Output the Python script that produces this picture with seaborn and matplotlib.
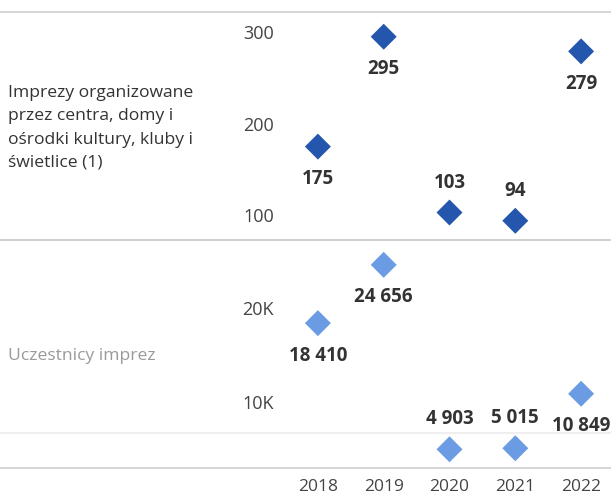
import matplotlib
matplotlib.use("Agg")
import matplotlib.pyplot as plt
import seaborn as sns
import pandas as pd
from matplotlib.lines import Line2D

years = ["2018", "2019", "2020", "2021", "2022"]
events = [175, 295, 103, 94, 279]
participants = [18410, 24656, 4903, 5015, 10849]
row_labels = ["Imprezy organizowane\nprzez centra, domy i\nośrodki kultury, kluby i\nświetlice (1)",
              "Uczestnicy imprez"]
events_ticks = [100, 200, 300]
events_ticklabels = ["100", "200", "300"]
part_ticks = [10000, 20000]
part_ticklabels = ["10K", "20K"]
label_side = ["below", "below", "above", "above", "below"]

sns.set_theme(style="white")
plt.rcParams['font.family'] = ['Open Sans', 'DejaVu Sans']

W, H = 611, 499
fig = plt.figure(figsize=(W / 100, H / 100), dpi=100)

def fy(px):
    return 1 - px / H

left = 285 / W
width = 329 / W
ax1 = fig.add_axes([left, fy(240), width, (240 - 12) / H])
ax2 = fig.add_axes([left, fy(468), width, (468 - 242) / H])

def fmt(v):
    return f"{v:,}".replace(",", " ")

df1 = pd.DataFrame({"year": years, "value": events})
df2 = pd.DataFrame({"year": years, "value": participants})

for ax, df, color, ylim, ticks, tlabels in [
        (ax1, df1, "#2456ad", (73, 322), events_ticks, events_ticklabels),
        (ax2, df2, "#6b9ce3", (2900, 27100), part_ticks, part_ticklabels)]:
    sns.scatterplot(data=df, x="year", y="value", ax=ax, marker="D", s=175,
                    color=color, edgecolor="none", legend=False, zorder=3)
    ax.set_xlim(-0.5, 4.5)
    ax.set_ylim(*ylim)
    ax.set_yticks(ticks)
    ax.set_yticklabels(tlabels)
    ax.set_xlabel("")
    ax.set_ylabel("")
    for s in ax.spines.values():
        s.set_visible(False)
    ax.tick_params(axis="y", length=0, pad=8, labelsize=13, labelcolor="#444444")
    ax.patch.set_alpha(0)
    for i, (v, side) in enumerate(zip(df["value"], label_side)):
        off = -23.5 if side == "below" else 21.5
        ax.annotate(fmt(v), (i, v), xytext=(0, off), textcoords="offset points",
                    ha="center", va="center", fontsize=13.5, fontweight="bold",
                    color="#333333")

ax1.set_xticks(range(len(years)))
ax1.tick_params(axis="x", length=0, labelbottom=False)
ax2.set_xticks(range(len(years)))
ax2.set_xticklabels(years)
ax2.tick_params(axis="x", length=0, pad=8, labelsize=12.5, labelcolor="#444444")

# row separators
for ypx, col, lw in [(12, "#d0d0d0", 1.2), (240, "#c8c8c8", 1.2),
                     (433, "#efefef", 1.5), (468, "#cfcfcf", 1.2)]:
    fig.add_artist(Line2D([0, 1], [fy(ypx), fy(ypx)], transform=fig.transFigure,
                          color=col, lw=lw))

fig.text(8 / W, fy(128), row_labels[0], ha="left", va="center", fontsize=12.6,
         color="#333333", linespacing=1.6)
fig.text(8 / W, fy(356), row_labels[1], ha="left", va="center", fontsize=12.6,
         color="#9a9a9a")

fig.savefig("out.png", dpi=100)
